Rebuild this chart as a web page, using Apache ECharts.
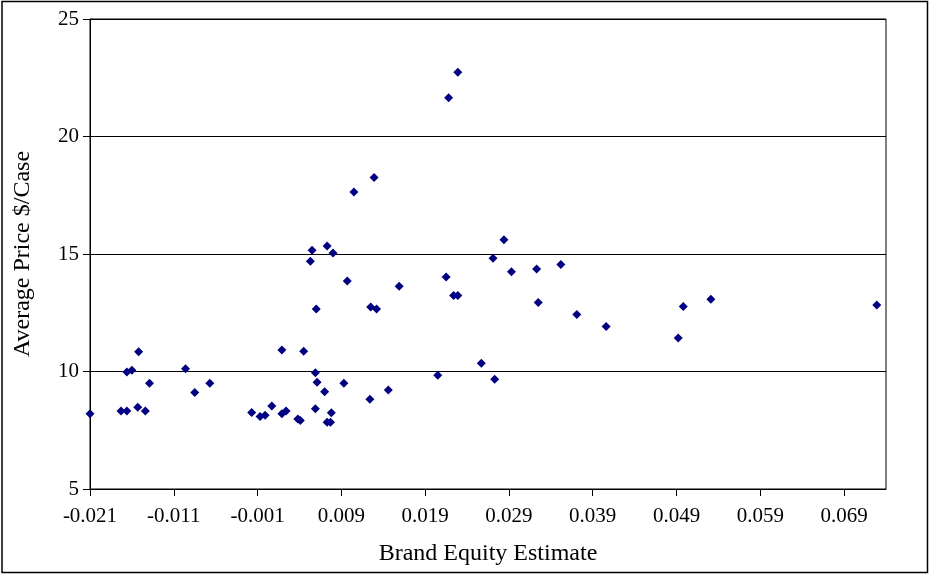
<!DOCTYPE html>
<html>
<head>
<meta charset="utf-8">
<title>Brand Equity vs Average Price</title>
<script src="https://cdn.jsdelivr.net/npm/echarts@6/dist/echarts.min.js"></script>
<style>
  html, body { margin: 0; padding: 0; background: #fff; }
  #chart { width: 930px; height: 575px; }
</style>
</head>
<body>
<div id="chart"></div>
<script>
// x: 品牌权益估计, y: 平均价格
var brandEquity = [
  -0.0210, -0.0173, -0.0166, -0.0166, -0.0160, -0.0152, -0.0153, -0.0144, -0.0139,
  -0.0096, -0.0085, -0.0067, -0.0017, -0.0007, -0.0001, 0.0007, 0.0019, 0.0024,
  0.0019, 0.0045, 0.0038, 0.0041, 0.0055, 0.0053, 0.0073, 0.0080, 0.0097, 0.0159,
  0.0060, 0.0125, 0.0132, 0.0059, 0.0061, 0.0070, 0.0093, 0.0146, 0.0124, 0.0059,
  0.0078, 0.0073, 0.0077, 0.0105, 0.0129, 0.0229, 0.0218, 0.0284, 0.0271, 0.0293,
  0.0215, 0.0224, 0.0229, 0.0257, 0.0205, 0.0273, 0.0323, 0.0352, 0.0325, 0.0371,
  0.0406, 0.0492, 0.0498, 0.0531, 0.0729
];
var avgPrice = [
  8.20, 8.32, 8.32, 9.98, 10.05, 10.84, 8.48, 8.32, 9.50,
  10.12, 9.11, 9.50, 8.26, 8.08, 8.14, 8.53, 8.20, 8.32,
  10.91, 10.86, 7.98, 7.91, 15.16, 14.69, 15.34, 15.04, 13.85, 13.63,
  12.66, 12.74, 12.66, 9.95, 9.54, 9.14, 9.50, 9.21, 8.82, 8.42,
  8.25, 7.84, 7.84, 17.64, 18.26, 22.73, 21.65, 15.61, 14.82, 14.25,
  14.02, 13.23, 13.23, 10.35, 9.84, 9.67, 14.36, 14.55, 12.94, 12.43,
  11.92, 11.43, 12.77, 13.07, 12.83
];
var xTicks = [-0.021, -0.011, -0.001, 0.009, 0.019, 0.029, 0.039, 0.049, 0.059, 0.069];
var yTicks = [5, 10, 15, 20, 25];

var points = brandEquity.map(function (x, i) { return [x, avgPrice[i]]; });

var chart = echarts.init(document.getElementById('chart'));

var font = '"Liberation Serif", "Times New Roman", serif';

var option = {
  backgroundColor: '#fff',
  animation: false,
  textStyle: { fontFamily: font },
  graphic: [{
    type: 'rect',
    shape: { x: 2, y: 1.5, width: 925.5, height: 571 },
    style: { fill: 'none', stroke: '#000', lineWidth: 1.5 },
    silent: true
  }],
  grid: {
    left: 90, right: 44, top: 19, bottom: 86,
    show: true, borderColor: '#000', borderWidth: 1,
    containLabel: false,
    outerBoundsMode: 'none'
  },
  xAxis: {
    type: 'value',
    min: -0.021,
    max: 0.074,
    name: 'Brand Equity Estimate',
    nameLocation: 'middle',
    nameGap: 53,
    nameTextStyle: { fontFamily: font, fontSize: 24, color: '#000' },
    axisLine: { show: true, onZero: false, lineStyle: { color: '#000', width: 1 } },
    axisTick: { show: true, inside: false, length: 7, customValues: xTicks, lineStyle: { color: '#000' } },
    axisLabel: {
      customValues: xTicks,
      fontFamily: font, fontSize: 21, color: '#000', margin: 17,
      formatter: function (v) { return v.toFixed(3); }
    },
    splitLine: { show: false }
  },
  yAxis: {
    type: 'value',
    min: 5,
    max: 25,
    interval: 5,
    name: 'Average Price $/Case',
    nameLocation: 'middle',
    nameGap: 55,
    nameTextStyle: { fontFamily: font, fontSize: 24, color: '#000' },
    axisLine: { show: true, onZero: false, lineStyle: { color: '#000', width: 1 } },
    axisTick: { show: true, inside: false, length: 7, lineStyle: { color: '#000' } },
    axisLabel: { fontFamily: font, fontSize: 21, color: '#000', margin: 11 },
    splitLine: { show: true, lineStyle: { color: '#000', width: 1 } }
  },
  series: [{
    type: 'scatter',
    data: points,
    symbol: 'diamond',
    symbolSize: 9,
    itemStyle: { color: '#000080', opacity: 1 }
  }]
};

chart.setOption(option);

window.onresize = function () {
  chart.resize();
};
</script>
</body>
</html>
